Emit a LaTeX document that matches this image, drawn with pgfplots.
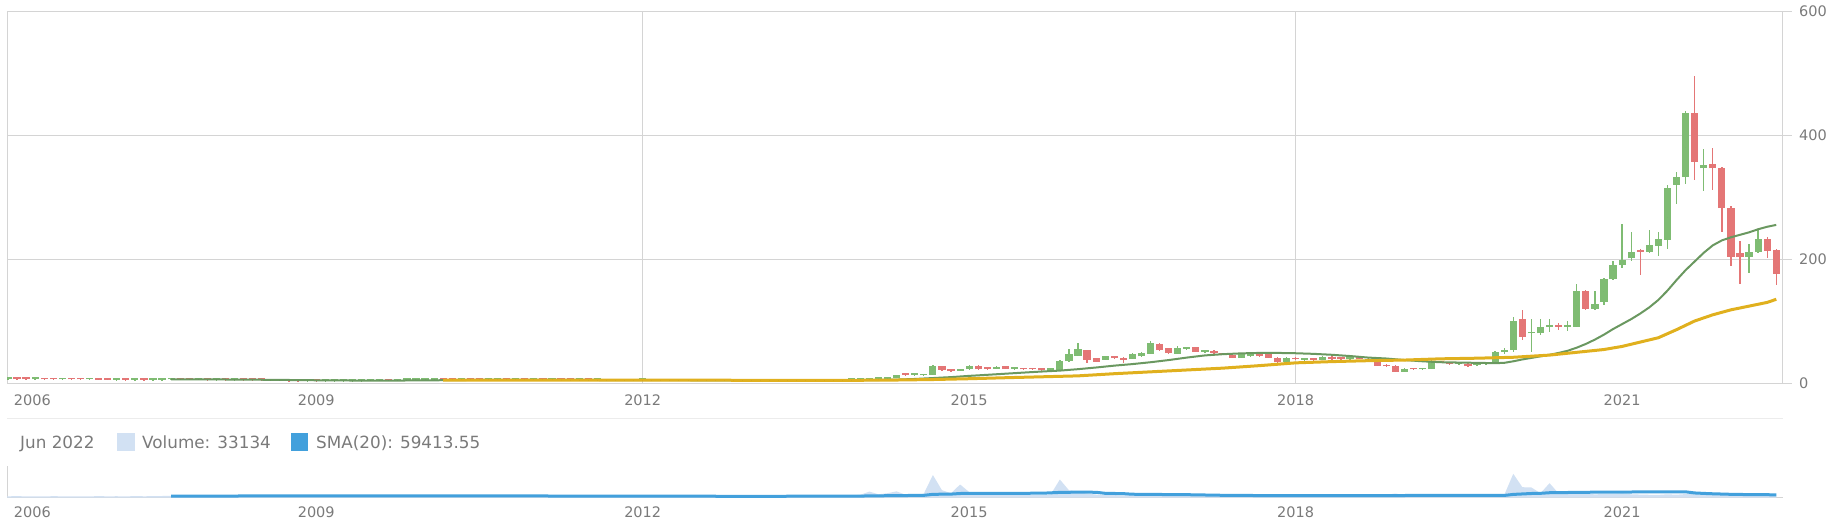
\documentclass[border=0pt]{standalone}
\usepackage{fontspec}
\setmainfont{DejaVu Sans}
\usepackage{pgfplots}
\usepackage{pgfplotstable}
\pgfplotsset{compat=1.18}
\definecolor{cup}{RGB}{127,188,115}
\definecolor{cdn}{RGB}{228,118,118}
\definecolor{cma}{RGB}{106,152,96}
\definecolor{cgold}{RGB}{224,176,30}
\definecolor{cgrid}{RGB}{212,212,212}
\definecolor{csep}{RGB}{236,236,236}
\definecolor{ctext}{RGB}{122,122,122}
\definecolor{cvol}{RGB}{210,225,243}
\definecolor{cvsma}{RGB}{66,160,220}

\pgfplotstableread{
n o h l c
-71 6.6 6.9 6.2 6.4
-70 6.4 6.8 6.1 6.6
-69 6.6 6.9 6.0 6.2
-68 6.2 6.6 5.9 6.1
-67 6.1 6.6 5.8 6.3
-66 6.3 6.5 5.9 6.0
-65 6.0 6.4 5.7 5.9
-64 5.9 6.3 5.6 6.1
-63 6.1 6.3 5.7 5.8
-62 5.8 6.2 5.5 5.7
-61 5.7 6.1 5.5 5.9
-60 5.9 6.2 5.5 5.6
-59 5.6 6.0 5.3 5.5
-58 5.5 5.9 5.3 5.7
-57 5.7 5.9 5.2 5.4
-56 5.4 5.8 5.2 5.6
-55 5.6 5.8 5.1 5.3
-54 5.3 5.7 5.1 5.5
-53 5.5 5.9 5.3 5.8
-52 5.8 6.2 5.6 6.0
-51 6.0 6.3 5.7 5.9
-50 5.9 6.2 5.5 5.7
-49 5.7 6.0 5.4 5.8
-48 5.8 6.0 5.2 5.4
-47 5.4 5.8 5.1 5.6
-46 5.6 5.8 5.0 5.2
-45 5.2 5.6 4.9 5.4
-44 5.4 5.6 4.8 5.0
-43 5.0 5.3 4.6 4.7
-42 4.7 5.0 4.3 4.5
-41 4.5 4.8 4.0 4.2
-40 4.2 4.6 3.6 3.8
-39 3.8 4.2 3.3 3.5
-38 3.5 3.9 3.0 3.2
-37 3.2 3.6 2.9 3.4
-36 3.4 3.7 2.8 3.0
-35 3.0 3.4 2.7 3.2
-34 3.2 3.7 3.0 3.5
-33 3.5 3.9 3.2 3.7
-32 3.7 4.1 3.4 3.9
-31 3.9 4.3 3.6 4.1
-30 4.1 4.5 3.8 4.3
-29 4.3 4.7 4.0 4.5
-28 4.5 4.8 4.1 4.4
-27 4.4 4.9 4.2 4.7
-26 4.7 5.1 4.4 4.9
-25 4.9 5.4 4.6 5.2
-24 5.2 5.6 4.9 5.5
-23 5.5 5.9 5.2 5.7
-22 5.7 6.0 5.3 5.5
-21 5.5 5.8 5.1 5.3
-20 5.3 5.7 5.0 5.4
-19 5.4 5.7 5.0 5.2
-18 5.2 5.5 4.8 5.0
-17 5.0 5.4 4.7 5.2
-16 5.2 5.6 4.9 5.4
-15 5.4 5.7 5.0 5.1
-14 5.1 5.5 4.8 5.3
-13 5.3 5.6 4.9 5.0
-12 5.0 5.4 4.7 5.2
-11 5.2 5.5 4.8 4.9
-10 4.9 5.3 4.6 5.1
-9 5.1 5.4 4.7 4.8
-8 4.8 5.1 4.4 4.6
-7 4.6 5.0 4.3 4.8
-6 4.8 5.1 4.4 4.5
-5 4.5 4.9 4.2 4.7
-4 4.7 5.0 4.3 4.4
-3 4.4 4.8 4.1 4.6
-2 4.6 4.9 4.2 4.3
-1 4.3 4.7 4.0 4.5
0 4.5 4.9 4.2 4.7
1 4.7 5.0 4.3 4.4
2 4.4 4.8 4.1 4.6
3 4.6 4.9 4.2 4.3
4 4.3 4.7 4.0 4.5
5 4.5 4.8 4.1 4.2
6 4.2 4.6 3.9 4.4
7 4.4 4.7 4.0 4.1
8 4.1 4.5 3.8 4.3
9 4.3 4.6 3.9 4.0
10 4.0 4.4 3.7 4.2
11 4.2 4.5 3.8 3.9
12 3.9 4.3 3.6 4.1
13 4.1 4.4 3.7 3.8
14 3.8 4.2 3.5 4.0
15 4.0 4.3 3.6 3.7
16 3.7 4.1 3.4 3.9
17 3.9 4.2 3.5 3.6
18 3.6 4.0 3.3 3.8
19 3.8 4.2 3.5 4.0
20 4.0 4.4 3.7 4.2
21 4.2 4.6 3.9 4.4
22 4.4 4.9 4.1 4.7
23 4.7 5.2 4.4 5.0
24 5.0 5.8 4.8 5.6
25 5.6 6.6 5.3 6.3
26 6.3 7.5 6.0 7.2
27 7.2 9.0 6.8 8.0
28 8.0 13.5 7.6 13.0
29 13.0 14.0 12.0 12.6
30 12.6 13.8 12.0 13.0
31 12.5 14.5 12.0 14.0
32 13.5 28.5 13.0 27.4
33 27.4 28.0 20.0 21.0
34 22.0 23.0 18.5 19.5
35 19.5 23.0 19.0 22.5
36 22.0 28.5 21.5 28.0
37 28.0 28.5 21.5 22.0
38 23.5 24.5 22.0 23.0
39 23.0 27.0 22.5 26.5
40 27.0 27.8 22.5 23.0
41 23.0 24.0 22.0 23.3
42 23.0 23.8 21.5 22.0
43 22.5 23.0 21.0 21.8
44 21.8 22.5 20.5 21.0
45 21.0 22.0 20.5 21.5
46 21.0 37.0 20.5 36.0
47 35.0 55.0 34.0 47.0
48 44.0 64.5 43.0 55.0
49 53.5 54.0 33.0 37.6
50 40.0 41.0 33.5 34.5
51 37.6 44.0 37.0 43.5
52 42.0 43.0 39.0 40.0
53 41.0 42.0 32.0 37.6
54 39.0 48.0 38.0 47.0
55 43.0 50.0 42.0 49.0
56 47.0 67.0 46.0 65.0
57 63.0 64.0 52.0 53.0
58 56.0 57.0 47.0 48.0
59 47.0 60.0 46.0 56.0
60 55.0 57.0 54.0 56.0
61 57.5 58.0 50.0 50.5
62 50.0 52.0 49.0 51.0
63 52.0 53.0 47.0 48.0
64 48.0 49.0 44.5 45.0
65 45.0 46.0 40.5 41.0
66 41.0 47.0 40.0 46.0
67 43.0 47.0 42.0 46.5
68 46.5 47.0 42.0 43.0
69 46.0 47.0 40.5 41.0
70 41.0 42.0 33.0 33.5
71 33.5 42.0 33.0 41.0
72 41.0 42.0 37.0 38.0
73 37.5 39.0 36.0 38.5
74 38.5 39.0 36.0 37.0
75 37.0 43.0 36.5 42.0
76 42.0 43.0 37.5 38.0
77 39.5 40.5 38.0 39.0
78 39.0 40.5 38.5 39.8
79 39.8 41.0 38.5 39.0
80 39.0 40.0 36.0 36.5
81 35.5 36.0 27.5 28.0
82 29.0 30.0 26.5 27.0
83 28.0 29.0 17.5 18.0
84 18.0 23.5 17.0 22.5
85 22.5 23.0 21.0 22.0
86 22.0 24.0 21.5 23.5
87 23.0 40.5 22.5 34.0
88 34.0 35.0 32.0 33.0
89 33.0 34.0 29.5 30.0
90 30.5 32.0 29.5 31.5
91 31.0 32.0 26.5 27.0
92 29.0 31.0 28.0 30.5
93 30.0 33.0 29.5 32.0
94 34.0 51.0 33.0 50.0
95 50.0 56.0 47.0 53.0
96 53.0 107.0 50.0 100.0
97 103.0 117.0 70.0 75.0
98 80.0 103.0 50.0 82.0
99 80.0 103.0 77.0 91.0
100 91.0 103.0 82.0 93.0
101 93.0 97.0 86.0 91.0
102 91.0 100.0 84.0 93.0
103 91.0 159.0 90.0 148.0
104 149.0 150.0 117.0 120.0
105 120.0 149.0 117.0 127.0
106 131.0 169.0 126.0 168.0
107 167.0 197.0 166.0 190.0
108 190.0 256.0 185.0 198.0
109 201.0 243.0 196.0 211.0
110 213.0 216.0 175.0 211.0
111 212.0 246.0 210.0 222.0
112 221.0 243.0 205.0 233.0
113 231.0 319.0 216.0 315.0
114 320.0 340.0 288.0 333.0
115 332.0 439.0 321.0 435.0
116 435.0 495.0 327.0 357.0
117 346.0 377.0 309.0 351.0
118 353.0 379.0 312.0 346.0
119 347.0 348.0 244.0 282.0
120 283.0 285.0 188.0 204.0
121 209.0 229.0 160.0 203.0
122 204.0 224.0 177.0 211.0
123 212.0 246.0 210.0 233.0
124 232.0 235.0 201.0 213.0
125 214.0 216.0 158.0 176.0
}\ohlc

\pgfplotstableread{
n v
-52 6.0
-48 5.8
-44 5.5
-40 5.0
-36 4.4
-32 4.0
-28 3.9
-24 4.2
-20 4.8
-16 5.1
-12 5.2
-8 5.0
-4 4.8
0 4.6
4 4.5
8 4.3
12 4.2
16 4.1
20 4.1
24 4.4
26 4.8
28 5.5
30 6.5
32 8.0
34 9.5
36 11.5
38 13.2
40 15.0
42 16.8
44 18.5
46 20.0
48 22.3
50 25.0
52 28.0
54 30.5
56 33.5
58 37.0
60 41.0
62 44.5
64 46.5
66 47.8
68 48.5
70 48.5
72 48.0
74 47.0
76 45.5
78 43.5
80 41.0
82 39.5
84 37.0
86 35.0
88 33.5
90 33.0
92 32.5
94 32.0
95 32.5
96 35.0
97 38.0
98 40.5
99 43.0
100 45.5
101 48.5
102 52.0
103 57.0
104 63.0
105 70.0
106 78.0
107 87.0
108 95.0
109 103.0
110 112.0
111 122.0
112 134.0
113 149.0
114 166.0
115 182.0
116 196.0
117 210.0
118 222.0
119 230.0
120 235.0
121 239.0
122 243.0
123 248.0
124 252.0
125 255.0
}\smatwenty

\pgfplotstableread{
n v
-22 4.8
-18 4.7
-12 4.6
-6 4.6
0 4.5
6 4.5
12 4.4
18 4.3
24 4.4
28 4.8
32 5.6
36 6.9
40 8.5
44 10.0
48 11.5
52 15.0
56 18.0
60 21.0
64 24.0
68 28.0
72 32.5
76 34.5
80 36.0
84 37.0
88 39.0
92 40.0
96 41.5
100 45.0
104 51.0
106 54.0
108 59.0
110 66.0
112 73.0
114 86.0
116 100.0
118 110.0
120 118.0
122 124.0
124 130.0
125 135.0
}\smafifty

\pgfplotstableread{
n v
-71 28000
-70 26000
-69 30000
-68 25000
-67 27000
-66 24000
-65 29000
-64 26000
-63 23000
-62 27000
-61 25000
-60 30000
-59 26000
-58 28000
-57 24000
-56 31000
-55 27000
-54 29000
-53 33000
-52 35000
-51 32000
-50 36000
-49 34000
-48 38000
-47 35000
-46 33000
-45 37000
-44 34000
-43 36000
-42 39000
-41 35000
-40 41000
-39 37000
-38 40000
-37 36000
-36 38000
-35 34000
-34 36000
-33 33000
-32 35000
-31 32000
-30 34000
-29 31000
-28 33000
-27 36000
-26 34000
-25 38000
-24 35000
-23 37000
-22 40000
-21 36000
-20 34000
-19 38000
-18 35000
-17 33000
-16 36000
-15 34000
-14 32000
-13 35000
-12 33000
-11 31000
-10 34000
-9 32000
-8 30000
-7 33000
-6 31000
-5 29000
-4 32000
-3 30000
-2 28000
-1 31000
0 29000
1 27000
2 30000
3 28000
4 26000
5 29000
6 27000
7 25000
8 28000
9 26000
10 24000
11 27000
12 25000
13 28000
14 26000
15 29000
16 27000
17 30000
18 28000
19 32000
20 35000
21 38000
22 42000
23 45000
24 60000
25 130000
26 70000
27 95000
28 135000
29 60000
30 50000
31 85000
32 495000
33 160000
34 95000
35 286000
36 120000
37 80000
38 65000
39 70000
40 60000
41 55000
42 52000
43 50000
44 55000
45 70000
46 396000
47 160000
48 120000
49 85000
50 65000
51 55000
52 50000
53 48000
54 52000
55 50000
56 75000
57 60000
58 48000
59 50000
60 45000
61 42000
62 40000
63 43000
64 41000
65 39000
66 42000
67 40000
68 38000
69 41000
70 50000
71 45000
72 42000
73 38000
74 36000
75 44000
76 40000
77 37000
78 35000
79 36000
80 38000
81 55000
82 60000
83 88000
84 50000
85 40000
86 38000
87 65000
88 42000
89 38000
90 36000
91 40000
92 37000
93 39000
94 70000
95 55000
96 521000
97 227000
98 220000
99 95000
100 315000
101 90000
102 75000
103 110000
104 80000
105 70000
106 75000
107 72000
108 85000
109 70000
110 65000
111 60000
112 58000
113 70000
114 62000
115 75000
116 80000
117 62000
118 58000
119 60000
120 55000
121 52000
122 48000
123 45000
124 42000
125 33134
}\vol

\pgfplotstableread{
n v
-52 30000
-40 35000
-30 35000
-20 35000
-10 33000
0 30000
10 27000
20 28000
24 32000
28 42000
31 47000
32 70000
34 75000
35 88000
38 92000
44 94000
46 112000
48 118000
50 115000
51 92000
53 85000
54 72000
56 68000
60 62000
65 45000
70 43000
80 40000
85 45000
90 46000
95 45000
96 68000
97 78000
98 88000
99 92000
100 105000
104 115000
108 120000
112 124000
115 125000
116 100000
117 90000
118 82000
120 70000
122 64000
125 59414
}\volsma

\pgfplotsset{
  candle/.style={only marks, mark=*, mark size=0pt, mark options={draw=none, fill=none}, forget plot},
}

\begin{document}
\begin{tikzpicture}
\useasboundingbox (0pt,0pt) rectangle (1837pt,531pt);
% separator
\draw[csep, line width=1pt] (7pt,113pt) -- (1783pt,113pt);

\begin{axis}[
  at={(7pt,148pt)}, anchor=south west, scale only axis,
  width=1776pt, height=372pt,
  xmin=-70.1, xmax=125.74, ymin=0, ymax=600,
  axis line style={draw=cgrid, line width=1pt},
  ytick={0,200,400,600}, ytick pos=right, yticklabel pos=right,
  ymajorgrids=true,
  grid style={draw=cgrid, line width=1pt},
  tick align=outside, major tick length=9pt,
  ytick style={draw=cgrid, line width=1pt},
  xtick={-67.3,-36,0,36,72,108},
  xticklabels={2006,2009,2012,2015,2018,2021},
  xtick style={draw=none},
  extra x ticks={0,72}, extra x tick labels={},
  extra x tick style={grid=major},
  /pgf/number format/assume math mode=true,
  ticklabel style={font=\fontsize{14.5}{17}\selectfont, text=ctext, inner sep=0pt},
  xticklabel style={anchor=north, yshift=-3pt},
  yticklabel style={anchor=west, xshift=7pt},
]
% wicks
\addplot[candle,
  restrict expr to domain={\thisrow{c}-\thisrow{o}}{0:100000},
  error bars/.cd, y dir=both, y explicit, error mark=none,
  error bar style={draw=cup, line width=1.3pt}]
  table[x=n, y expr={(\thisrow{h}+\thisrow{l})/2}, y error expr={(\thisrow{h}-\thisrow{l})/2}]{\ohlc};
\addplot[candle,
  restrict expr to domain={\thisrow{c}-\thisrow{o}}{-100000:-0.00001},
  error bars/.cd, y dir=both, y explicit, error mark=none,
  error bar style={draw=cdn, line width=1.3pt}]
  table[x=n, y expr={(\thisrow{h}+\thisrow{l})/2}, y error expr={(\thisrow{h}-\thisrow{l})/2}]{\ohlc};
% bodies
\addplot[candle,
  restrict expr to domain={\thisrow{c}-\thisrow{o}}{0:100000},
  error bars/.cd, y dir=plus, y explicit, error mark=none,
  error bar style={draw=cup, line width=7.2pt}]
  table[x=n, y expr={min(\thisrow{o},\thisrow{c})}, y error plus expr={max(abs(\thisrow{c}-\thisrow{o}),2.8)}]{\ohlc};
\addplot[candle,
  restrict expr to domain={\thisrow{c}-\thisrow{o}}{-100000:-0.00001},
  error bars/.cd, y dir=plus, y explicit, error mark=none,
  error bar style={draw=cdn, line width=7.2pt}]
  table[x=n, y expr={min(\thisrow{o},\thisrow{c})}, y error plus expr={max(abs(\thisrow{c}-\thisrow{o}),2.8)}]{\ohlc};
% moving averages
\addplot[draw=cma, line width=2pt, line join=round, mark=none] table[x=n,y=v]{\smatwenty};
\addplot[draw=cgold, line width=3pt, line join=round, mark=none] table[x=n,y=v]{\smafifty};
\end{axis}

% legend of volume panel
\node[anchor=base west, inner sep=0pt, text=ctext, font=\fontsize{16.8}{20}\selectfont] at (20pt,82.7pt) {Jun 2022};
\fill[cvol] (117pt,80pt) rectangle (135pt,98pt);
\node[anchor=base west, inner sep=0pt, text=ctext, font=\fontsize{16.8}{20}\selectfont] at (142pt,82.7pt) {Volume: 33134};
\fill[cvsma] (291pt,80pt) rectangle (308pt,98pt);
\node[anchor=base west, inner sep=0pt, text=ctext, font=\fontsize{16.8}{20}\selectfont] at (316pt,82.7pt) {SMA(20): 59413.55};

\begin{axis}[
  at={(7pt,33.5pt)}, anchor=south west, scale only axis,
  width=1776pt, height=31.5pt,
  xmin=-70.1, xmax=125.74, ymin=0, ymax=693000,
  axis x line*=bottom, axis y line*=left,
  axis line style={draw=cgrid, line width=1pt},
  ytick=\empty,
  xtick={-67.3,-36,0,36,72,108},
  xticklabels={2006,2009,2012,2015,2018,2021},
  xtick style={draw=none},
  ticklabel style={font=\fontsize{14.5}{17}\selectfont, text=ctext, inner sep=0pt},
  xticklabel style={anchor=north, yshift=-9pt},
]
\addplot[fill=cvol, draw=none, mark=none] table[x=n,y=v]{\vol} \closedcycle;
\addplot[draw=cvsma, line width=3pt, line join=round, mark=none] table[x=n,y=v]{\volsma};
\end{axis}
\end{tikzpicture}
\end{document}
